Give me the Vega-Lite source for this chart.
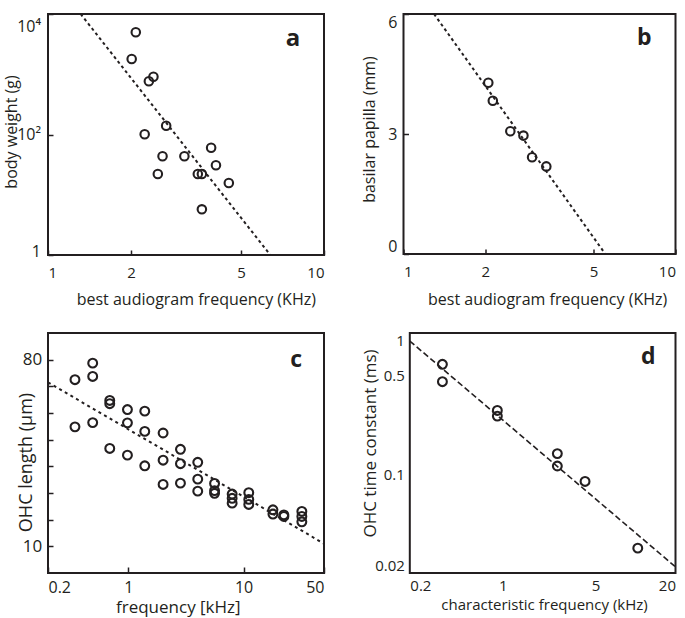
{
  "$schema": "https://vega.github.io/schema/vega-lite/v6.json",
  "background": "white",
  "padding": {"left": 2, "top": 9, "right": 0, "bottom": 0},
  "bounds": "flush",
  "columns": 2,
  "spacing": {"row": 78, "column": 79.5},
  "config": {
    "font": "Open Sans",
    "view": {"stroke": "#231f20", "strokeWidth": 2},
    "axis": {"grid": false, "domain": false, "labelFont": "Open Sans", "titleFont": "Open Sans", "labelColor": "#231f20", "titleColor": "#231f20", "titleFontWeight": "normal", "tickColor": "#231f20", "tickWidth": 1.5, "labelOverlap": false}
  },
  "datasets": {
    "a": [
      {"freq": 2.08, "weight": 4970}, {"freq": 2.01, "weight": 1791}, {"freq": 2.41, "weight": 911},
      {"freq": 2.32, "weight": 764}, {"freq": 2.68, "weight": 140}, {"freq": 2.24, "weight": 100.7},
      {"freq": 2.60, "weight": 43.5}, {"freq": 3.12, "weight": 43.5}, {"freq": 3.90, "weight": 60.4},
      {"freq": 4.06, "weight": 30.8}, {"freq": 2.50, "weight": 22.1}, {"freq": 3.49, "weight": 22.1},
      {"freq": 3.61, "weight": 22.1}, {"freq": 4.52, "weight": 15.7}, {"freq": 3.61, "weight": 5.73}
    ],
    "a_fit": [{"freq": 1.313, "weight": 10000}, {"freq": 6.39, "weight": 1}],
    "b": [
      {"freq": 2.05, "papilla": 4.28}, {"freq": 2.13, "papilla": 3.83}, {"freq": 2.47, "papilla": 3.07},
      {"freq": 2.76, "papilla": 2.96}, {"freq": 2.97, "papilla": 2.42}, {"freq": 3.35, "papilla": 2.19}
    ],
    "b_fit": [{"freq": 1.295, "papilla": 6}, {"freq": 5.52, "papilla": 0}],
    "c": [
      {"freq": 0.343, "len": 72.5}, {"freq": 0.343, "len": 54.8},
      {"freq": 0.489, "len": 78.7}, {"freq": 0.489, "len": 73.7}, {"freq": 0.489, "len": 56.4},
      {"freq": 0.688, "len": 64.7}, {"freq": 0.688, "len": 63.5}, {"freq": 0.688, "len": 46.7},
      {"freq": 0.98, "len": 61.3}, {"freq": 0.98, "len": 56.3}, {"freq": 0.98, "len": 44.2},
      {"freq": 1.386, "len": 60.7}, {"freq": 1.386, "len": 53.1}, {"freq": 1.386, "len": 40.2},
      {"freq": 2.0, "len": 52.5}, {"freq": 2.0, "len": 42.3}, {"freq": 2.0, "len": 33.2},
      {"freq": 2.83, "len": 46.4}, {"freq": 2.83, "len": 41.0}, {"freq": 2.83, "len": 33.7},
      {"freq": 4.0, "len": 41.5}, {"freq": 4.0, "len": 35.2}, {"freq": 4.0, "len": 30.7},
      {"freq": 5.6, "len": 33.6}, {"freq": 5.6, "len": 30.9}, {"freq": 5.6, "len": 29.9},
      {"freq": 7.96, "len": 29.6}, {"freq": 7.96, "len": 28.0}, {"freq": 7.96, "len": 26.2},
      {"freq": 11.1, "len": 30.1}, {"freq": 11.1, "len": 27.6}, {"freq": 11.1, "len": 25.7},
      {"freq": 18.0, "len": 23.7}, {"freq": 18.0, "len": 22.1},
      {"freq": 22.4, "len": 21.8}, {"freq": 22.4, "len": 21.2},
      {"freq": 32.1, "len": 23.1}, {"freq": 32.1, "len": 21.2}, {"freq": 32.1, "len": 19.2}
    ],
    "c_fit": [{"freq": 0.2, "len": 71.5}, {"freq": 50, "len": 11}],
    "d": [
      {"freq": 0.352, "tau": 0.600}, {"freq": 0.352, "tau": 0.452},
      {"freq": 0.912, "tau": 0.283}, {"freq": 0.912, "tau": 0.258},
      {"freq": 2.58, "tau": 0.140}, {"freq": 2.58, "tau": 0.1144},
      {"freq": 4.17, "tau": 0.089}, {"freq": 10.4, "tau": 0.030}
    ],
    "d_fit": [{"freq": 0.2, "tau": 0.877}, {"freq": 20, "tau": 0.0221}]
  },
  "concat": [
    {
      "width": 276, "height": 241,
      "layer": [
        {
          "data": {"name": "a"},
          "mark": {"type": "point", "shape": "circle", "filled": false, "size": 72, "strokeWidth": 2.1, "color": "#231f20", "opacity": 1},
          "encoding": {
            "x": {"field": "freq", "type": "quantitative", "scale": {"type": "log", "domain": [1, 10], "nice": false},
              "axis": {"values": [1, 2, 5, 10], "tickCount": 10, "format": "~g", "tickSize": 5, "offset": -5, "labelPadding": 10.5, "labelOverlap": false, "labelFontSize": 15, "title": "best audiogram frequency (KHz)", "titleFontSize": 16, "titleX": 147.8, "titleY": 41}},
            "y": {"field": "weight", "type": "quantitative", "scale": {"type": "log", "domain": [1, 10000], "nice": false},
              "axis": {"values": [1, 100, 10000], "tickCount": 10, "labelExpr": "datum.value == 1 ? '1' : datum.value == 100 ? '10²' : '10⁴'", "labelOffset": {"condition": [{"test": "datum.value > 5000", "value": 12}, {"test": "datum.value < 2", "value": -4}], "value": 0}, "tickSize": 5, "offset": -5, "labelPadding": 7.5, "labelOverlap": false, "labelFontSize": 16, "title": "body weight (g)", "titleFontSize": 16, "titleX": -33.5, "titleY": 117.5}}
          }
        },
        {
          "data": {"name": "a_fit"},
          "mark": {"type": "line", "strokeDash": [3, 3], "strokeWidth": 2, "color": "#231f20"},
          "encoding": {"x": {"field": "freq", "type": "quantitative"}, "y": {"field": "weight", "type": "quantitative"}}
        },
        {
          "data": {"values": [{"label": "a"}]},
          "mark": {"type": "text", "fontWeight": "bold", "fontSize": 24, "font": "Open Sans", "align": "center", "baseline": "alphabetic", "color": "#231f20"},
          "encoding": {"x": {"datum": 7.72}, "y": {"datum": 2980}, "text": {"field": "label"}}
        }
      ]
    },
    {
      "width": 272, "height": 240,
      "layer": [
        {
          "data": {"name": "b"},
          "mark": {"type": "point", "shape": "circle", "filled": false, "size": 72, "strokeWidth": 2.1, "color": "#231f20", "opacity": 1},
          "encoding": {
            "x": {"field": "freq", "type": "quantitative", "scale": {"type": "log", "domain": [1, 10], "nice": false},
              "axis": {"values": [1, 2, 5, 10], "tickCount": 10, "format": "~g", "tickSize": 5, "offset": -5, "labelPadding": 10.7, "labelOverlap": false, "labelFontSize": 15, "title": "best audiogram frequency (KHz)", "titleFontSize": 16, "titleX": 143.6, "titleY": 42}},
            "y": {"field": "papilla", "type": "quantitative", "scale": {"domain": [0, 6], "nice": false},
              "axis": {"values": [0, 3, 6], "tickCount": 10, "format": "~g", "tickSize": 5, "offset": -5, "labelPadding": 6.7, "labelOverlap": false, "labelFontSize": 16, "labelFlush": true, "title": "basilar papilla (mm)", "titleFontSize": 16, "titleX": -31.5, "titleY": 115}}
          }
        },
        {
          "data": {"name": "b_fit"},
          "mark": {"type": "line", "strokeDash": [3, 3], "strokeWidth": 2, "color": "#231f20"},
          "encoding": {"x": {"field": "freq", "type": "quantitative"}, "y": {"field": "papilla", "type": "quantitative"}}
        },
        {
          "data": {"values": [{"label": "b"}]},
          "mark": {"type": "text", "fontWeight": "bold", "fontSize": 23, "font": "Open Sans", "align": "center", "baseline": "alphabetic", "color": "#231f20"},
          "encoding": {"x": {"datum": 7.67}, "y": {"datum": 5.23}, "text": {"field": "label"}}
        }
      ]
    },
    {
      "width": 276, "height": 240,
      "layer": [
        {
          "data": {"name": "c"},
          "mark": {"type": "point", "shape": "circle", "filled": false, "size": 78, "strokeWidth": 2.1, "color": "#231f20", "opacity": 1},
          "encoding": {
            "x": {"field": "freq", "type": "quantitative", "scale": {"type": "log", "domain": [0.2, 50], "nice": false},
              "axis": {"values": [0.2, 1, 10, 50], "tickCount": 10, "format": "~g", "tickSize": 6, "offset": -6, "labelPadding": 6, "labelOverlap": false, "labelFontSize": 16, "title": "frequency [kHz]", "titleFontSize": 17, "titleX": 129.8, "titleY": 32.2}},
            "y": {"field": "len", "type": "quantitative", "scale": {"domain": [0, 90], "nice": false},
              "axis": {"values": [10, 20, 30, 40, 50, 60, 70, 80], "tickCount": 20, "labelExpr": "datum.value == 10 || datum.value == 80 ? datum.label : ''", "tickSize": 5, "offset": -5, "labelPadding": 6.2, "labelOverlap": false, "labelFontSize": 17, "title": "OHC length (μm)", "titleFontSize": 18, "titleX": -17.8, "titleY": 129}}
          }
        },
        {
          "data": {"name": "c_fit"},
          "mark": {"type": "line", "strokeDash": [3, 3.5], "strokeWidth": 2, "color": "#231f20"},
          "encoding": {"x": {"field": "freq", "type": "quantitative"}, "y": {"field": "len", "type": "quantitative"}}
        },
        {
          "data": {"values": [{"label": "c"}]},
          "mark": {"type": "text", "fontWeight": "bold", "fontSize": 23, "font": "Open Sans", "align": "center", "baseline": "alphabetic", "color": "#231f20"},
          "encoding": {"x": {"datum": 28.7}, "y": {"datum": 77.2}, "text": {"field": "label"}}
        }
      ]
    },
    {
      "width": 272, "height": 240,
      "view": {"stroke": null},
      "layer": [
        {
          "data": {"name": "d"},
          "mark": {"type": "point", "shape": "circle", "filled": false, "size": 78, "strokeWidth": 2.1, "color": "#231f20", "opacity": 1},
          "encoding": {
            "x": {"field": "freq", "type": "quantitative", "scale": {"type": "log", "domain": [0.2, 20], "nice": false, "range": [6.3, 272]},
              "axis": {"values": [0.2, 1, 5, 20], "tickCount": 10, "format": "~g", "ticks": false, "labelPadding": 5.4, "labelOverlap": false, "labelFontSize": 15, "title": "characteristic frequency (kHz)", "titleFontSize": 15, "titleX": 140.5, "titleY": 24.5}},
            "y": {"field": "tau", "type": "quantitative", "scale": {"type": "log", "domain": [0.02, 1], "nice": false},
              "axis": {"values": [0.02, 0.1, 0.5, 1], "tickCount": 10, "format": "~g", "ticks": false, "offset": -6.3, "labelPadding": 5.5, "labelOverlap": false, "labelFontSize": 15, "labelFlush": true, "title": "OHC time constant (ms)", "titleFontSize": 17, "titleX": -29.9, "titleY": 110}}
          }
        },
        {
          "data": {"name": "d_fit"},
          "mark": {"type": "line", "strokeDash": [6, 3], "strokeWidth": 1.6, "color": "#231f20"},
          "encoding": {"x": {"field": "freq", "type": "quantitative"}, "y": {"field": "tau", "type": "quantitative"}}
        },
        {
          "data": {"values": [{"frame": 1}]},
          "mark": {"type": "rect", "filled": false, "stroke": "#231f20", "strokeWidth": 2},
          "encoding": {"x": {"datum": 0.2}, "x2": {"datum": 20}, "y": {"datum": 0.02}, "y2": {"datum": 1}}
        },
        {
          "data": {"values": [{"label": "d"}]},
          "mark": {"type": "text", "fontWeight": "bold", "fontSize": 23, "font": "Open Sans", "align": "center", "baseline": "alphabetic", "color": "#231f20"},
          "encoding": {"x": {"datum": 12.5}, "y": {"datum": 0.606}, "text": {"field": "label"}}
        }
      ]
    }
  ]
}
